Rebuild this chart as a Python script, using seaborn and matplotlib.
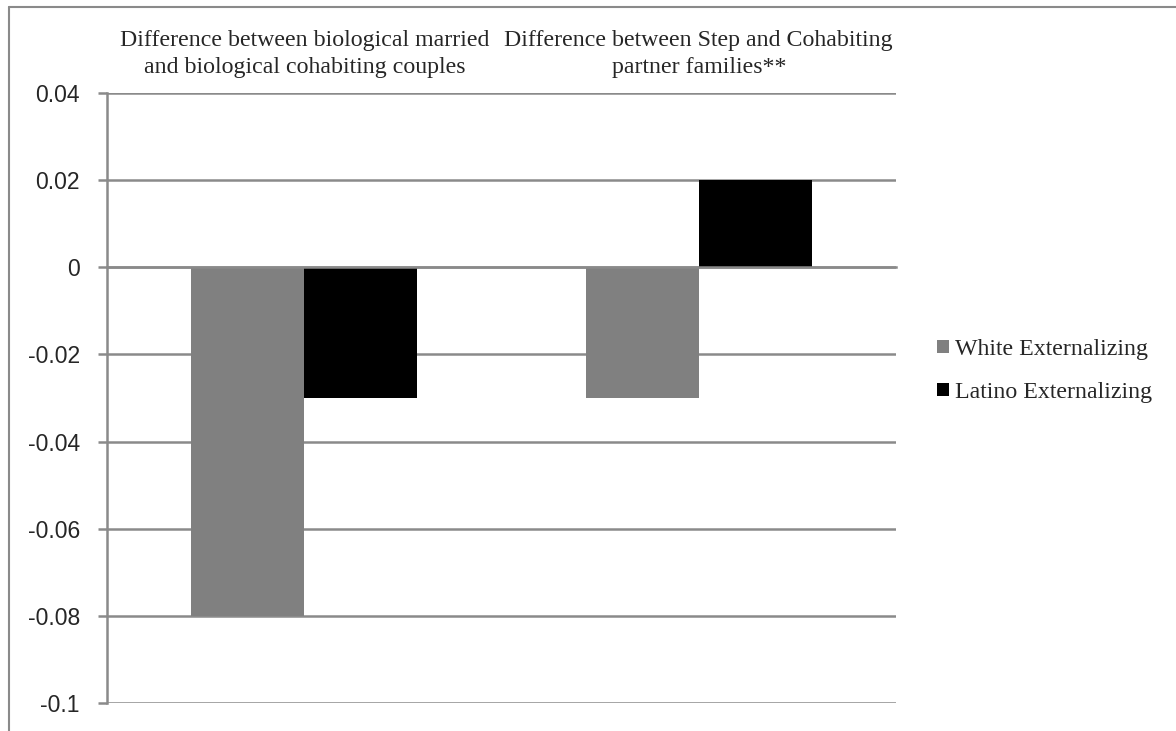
import matplotlib
matplotlib.use("Agg")
import matplotlib.pyplot as plt
from matplotlib.lines import Line2D
from matplotlib.patches import Patch
import seaborn as sns
import pandas as pd
import numpy as np

sns.set_style("white")

categories = ["Difference between biological married\nand biological cohabiting couples",
              "Difference between Step and Cohabiting\npartner families**"]
white_ext = [-0.08, -0.03]
latino_ext = [-0.03, 0.02]
series = ["White Externalizing", "Latino Externalizing"]
colors = ["#808080", "#000000"]
yticks = [0.04, 0.02, 0, -0.02, -0.04, -0.06, -0.08, -0.1]
ytick_labels = ["0.04", "0.02", "0", "-0.02", "-0.04", "-0.06", "-0.08", "-0.1"]

df = pd.DataFrame({
    "cat": categories * 2,
    "val": white_ext + latino_ext,
    "group": [series[0]] * 2 + [series[1]] * 2,
})

grid_col = "#8a8a8a"
fig = plt.figure(figsize=(11.76, 7.31), dpi=100)
ax = fig.add_axes([107 / 1176, 28 / 731, 789 / 1176, 610 / 731])

sns.barplot(data=df, x="cat", y="val", hue="group", palette=colors,
            width=0.573, saturation=1, ax=ax, legend=False, errorbar=None, linewidth=0)

ax.set_ylim(-0.1, 0.04)
ax.set_xlim(-0.5, 1.5)
ax.set_yticks(yticks)
ax.set_yticklabels(ytick_labels, fontsize=16.5, family="Liberation Sans")
for y in yticks:
    ax.axhline(y, color=grid_col, lw=1.8, zorder=0)
ax.set_axisbelow(True)

# category labels sit above the plot
ax.set_xticks([])
for i, c in enumerate(categories):
    ax.text(i, 1.0246, c, transform=ax.get_xaxis_transform(), ha="center", va="bottom",
            fontsize=17.2, family="Liberation Serif", linespacing=1.36)

# category axis at zero with boundary ticks
ax.spines["bottom"].set_position(("data", 0))
ax.spines["bottom"].set_color(grid_col)
ax.spines["bottom"].set_linewidth(1.8)
ax.set_xticks([0.5, 1.5], minor=True)
ax.tick_params(axis="x", which="minor", direction="out", length=5, width=1.8, color=grid_col)
ax.spines["left"].set_color(grid_col)
ax.spines["left"].set_linewidth(1.8)
ax.spines["top"].set_visible(False)
ax.spines["right"].set_visible(False)
ax.tick_params(axis="y", direction="out", length=6.5, width=1.8, color=grid_col, pad=13, left=True)
ax.set_xlabel("")
ax.set_ylabel("")

handles = [Patch(facecolor=c, edgecolor="none") for c in colors]
fig.legend(handles, series, loc="center left", bbox_to_anchor=(937 / 1176, 1 - 371 / 731),
           frameon=False, prop={"family": "Liberation Serif", "size": 17.2},
           handlelength=0.5, handleheight=0.5, handletextpad=0.25, labelspacing=0.92,
           borderpad=0, borderaxespad=0)

# outer chart border
fig.add_artist(Line2D([9 / 1176, 9 / 1176], [0, 1 - 7 / 731], color="#8a8a8a", lw=1.5))
fig.add_artist(Line2D([9 / 1176, 1], [1 - 7 / 731, 1 - 7 / 731], color="#8a8a8a", lw=1.5))

fig.savefig("out.png", dpi=100)
